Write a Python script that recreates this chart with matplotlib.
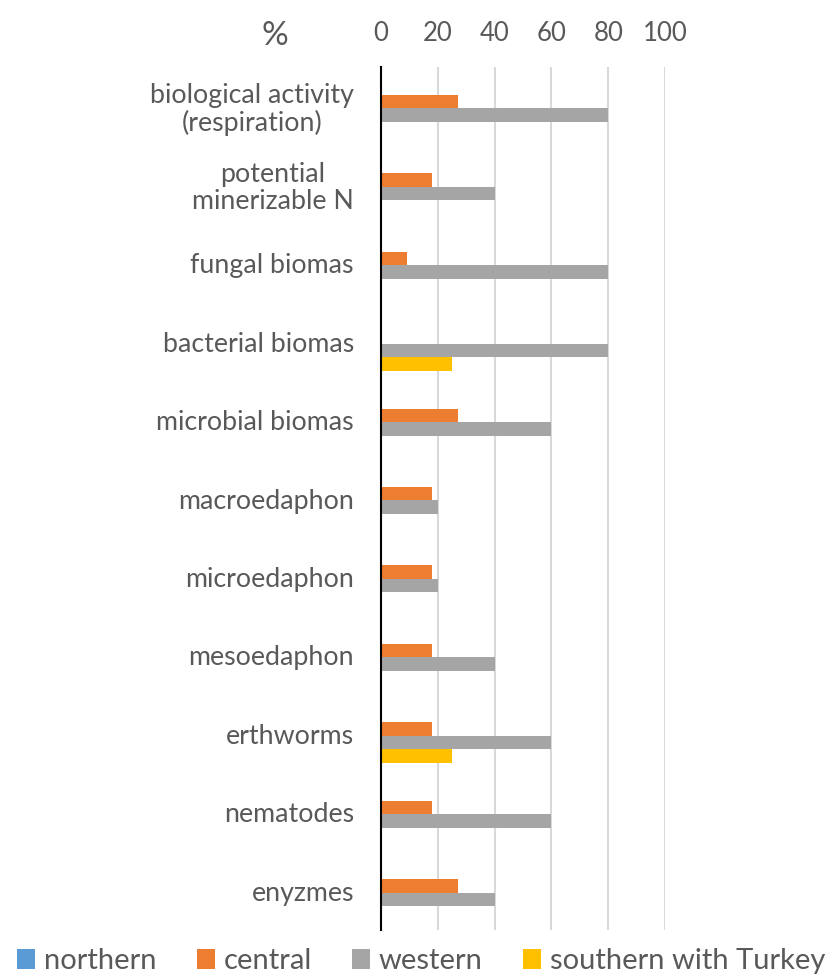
import numpy as np
import matplotlib
matplotlib.use("Agg")
import matplotlib.pyplot as plt

# data (percent)
categories = ["biological activity\n(respiration)", "potential\nminerizable N", "fungal biomas",
              "bacterial biomas", "microbial biomas", "macroedaphon", "microedaphon",
              "mesoedaphon", "erthworms", "nematodes", "enyzmes"]
series = ["northern", "central", "western", "southern with Turkey"]
northern = [0, 0, 0, 0, 0, 0, 0, 0, 0, 0, 0]
central = [27, 18, 9, 0, 27, 18, 18, 18, 18, 18, 27]
western = [80, 40, 80, 80, 60, 20, 20, 40, 60, 60, 40]
southern = [0, 0, 0, 25, 0, 0, 0, 0, 25, 0, 0]
ticks = [0, 20, 40, 60, 80, 100]

colors = ["#5b9bd5", "#ed7d31", "#a5a5a5", "#ffc000"]
txt = "#595959"
plt.rcParams['font.family'] = ['Lato', 'DejaVu Sans']

fig = plt.figure(figsize=(8.34, 9.74), dpi=100)
ax = fig.add_axes([381 / 834, 1 - 930 / 974, (665 - 381) / 834, (930 - 67) / 974])

y = np.arange(len(categories))
bh = 0.172
vals = [northern, central, western, southern]
for i, (name, v) in enumerate(zip(series, vals)):
    ax.barh(y + (i - 1.5) * bh + 0.025, v, height=bh, color=colors[i], label=name, zorder=3)

ax.set_ylim(len(categories) - 0.5, -0.5)
ax.set_xlim(0, 100)
ax.set_xticks(ticks)
ax.xaxis.tick_top()
ax.tick_params(axis='x', length=0, labelsize=18.5, labelcolor=txt, pad=15)
ax.set_yticks(y)
ax.set_yticklabels(categories, fontsize=19.3, color=txt, multialignment='center',
                   linespacing=1.1)
ax.tick_params(axis='y', length=0, pad=19.5)
ax.grid(axis='x', color="#d9d9d9", linewidth=1.5, zorder=0)
for s in ["top", "right", "bottom"]:
    ax.spines[s].set_visible(False)
ax.spines["left"].set_color("black")
ax.spines["left"].set_linewidth(1.5)
ax.spines["left"].set_zorder(4)

fig.text(275 / 834, 1 - 36 / 974, "%", fontsize=24, color=txt, ha='center', va='center')

fig.legend(loc='lower center', bbox_to_anchor=(0.505, -0.027), ncol=4, frameon=False,
           fontsize=21, labelcolor=txt, handlelength=0.6, handleheight=0.7,
           handletextpad=0.3, columnspacing=1.4)

fig.savefig("out.png", dpi=100)
